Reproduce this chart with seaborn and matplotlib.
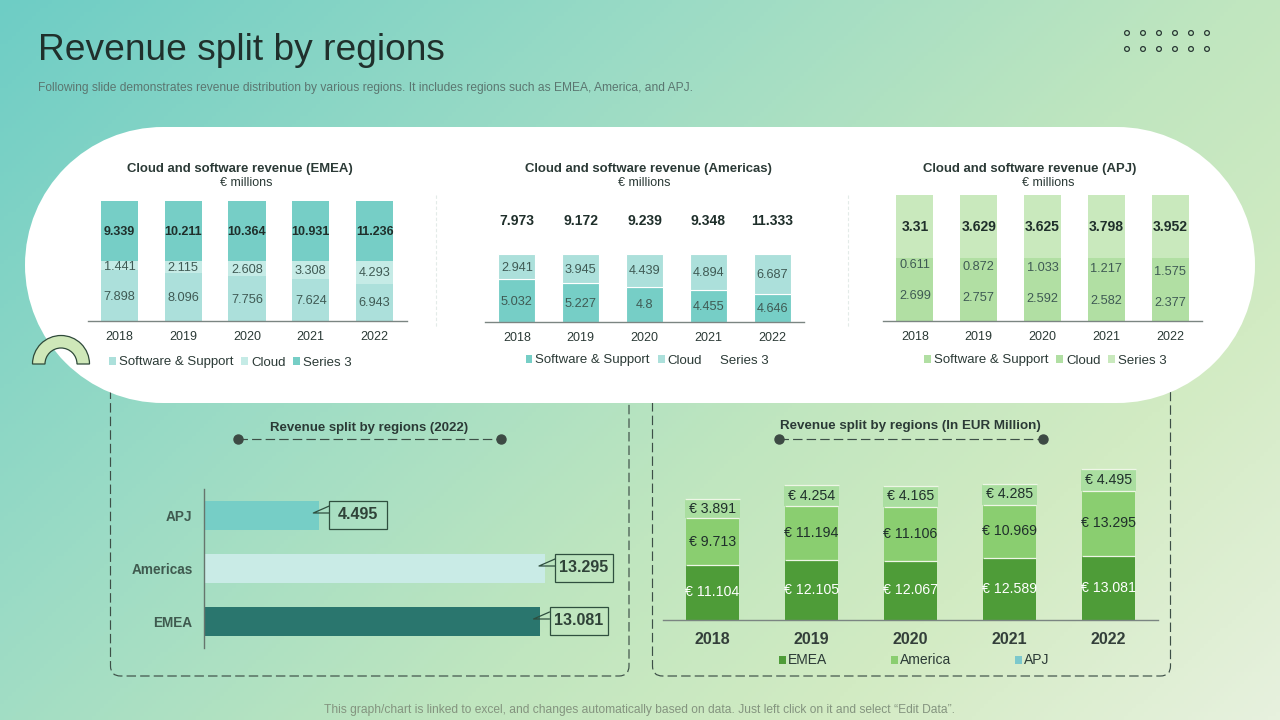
import numpy as np
import pandas as pd
import seaborn as sns
import matplotlib
matplotlib.use("Agg")
import matplotlib.pyplot as plt
from matplotlib.colors import LinearSegmentedColormap
from matplotlib.patches import FancyBboxPatch, Wedge, Circle, Patch, Rectangle

# ---------- data ----------
years = ["2018", "2019", "2020", "2021", "2022"]
emea_software = [7.898, 8.096, 7.756, 7.624, 6.943]
emea_cloud = [1.441, 2.115, 2.608, 3.308, 4.293]
emea_series3 = [9.339, 10.211, 10.364, 10.931, 11.236]
amer_software = [5.032, 5.227, 4.8, 4.455, 4.646]
amer_cloud = [2.941, 3.945, 4.439, 4.894, 6.687]
amer_series3 = [7.973, 9.172, 9.239, 9.348, 11.333]
apj_software = [2.699, 2.757, 2.592, 2.582, 2.377]
apj_cloud = [0.611, 0.872, 1.033, 1.217, 1.575]
apj_series3 = [3.31, 3.629, 3.625, 3.798, 3.952]
regions_2022 = ["APJ", "Americas", "EMEA"]
values_2022 = [4.495, 13.295, 13.081]
total_emea = [11.104, 12.105, 12.067, 12.589, 13.081]
total_america = [9.713, 11.194, 11.106, 10.969, 13.295]
total_apj = [3.891, 4.254, 4.165, 4.285, 4.495]
series_names = ["Software & Support", "Cloud", "Series 3"]
total_names = ["EMEA", "America", "APJ"]

W, H = 1280, 720
sns.set_theme(style="white")
plt.rcParams["font.family"] = ["Liberation Sans", "DejaVu Sans"]
fig = plt.figure(figsize=(12.8, 7.2), dpi=100)

DARK = "#2b3a36"
MID = "#3f5a54"


def ax_px(x0, y0, x1, y1, **kw):
    return fig.add_axes([x0 / W, 1 - y1 / H, (x1 - x0) / W, (y1 - y0) / H], **kw)


# ---------- background and decoration ----------
bg = ax_px(0, 0, W, H)
xx, yy = np.meshgrid(np.linspace(0, 1, 320), np.linspace(0, 1, 180))
t = (xx + 0.62 * yy) / 1.62
cmap = LinearSegmentedColormap.from_list(
    "bgfade",
    [(0, "#6ecdc5"), (0.3, "#97dac6"), (0.6, "#c0e6bf"), (0.78, "#d2ebc3"), (1, "#e7f1de")],
)
bg.imshow(t, cmap=cmap, extent=(0, W, H, 0), aspect="auto", zorder=0, vmin=0, vmax=1)
bg.set_xlim(0, W)
bg.set_ylim(H, 0)
bg.axis("off")

for bx0, bx1 in [(110.5, 629), (652.5, 1170.5)]:
    bg.add_patch(FancyBboxPatch((bx0, 380), bx1 - bx0, 296,
                                boxstyle="round,pad=0,rounding_size=10", fc="none",
                                ec="#3d4f47", lw=0.85, ls=(0, (8, 3.5)), zorder=1))
# white pill: a rectangle closed by two full half circles
bg.add_patch(Rectangle((163, 127), 954, 276, fc="white", ec="none", zorder=2))
bg.add_patch(Circle((163, 265), 138, fc="white", ec="none", zorder=2))
bg.add_patch(Circle((1117, 265), 138, fc="white", ec="none", zorder=2))
bg.add_patch(Wedge((61, 364), 28.5, 180, 360, width=12.5, fc="#cfe8b9", ec="#2f4a3a", lw=0.9, zorder=3))
for x in [1127, 1143, 1159, 1175, 1191, 1207]:
    for y in [33, 49]:
        bg.add_patch(Circle((x, y), 2.4, fc="none", ec="#2b3a36", lw=0.9, zorder=3))
for x in [435.5, 847.5]:
    bg.plot([x, x], [195, 327], color="#e3ebe8", lw=0.8, ls=(0, (3, 2)), zorder=3)
for x0, x1 in [(238, 501), (779, 1043)]:
    bg.plot([x0, x1], [439, 439], color="#3d4f47", lw=0.85, ls=(0, (8, 3.5)), zorder=3)
    bg.plot([x0, x1], [439, 439], ls="none", marker="o", ms=6.5, color="#3d4a44", zorder=3)

bg.text(38, 50, "Revenue split by regions", fontsize=26.7, color="#20302c", va="center", ha="left", zorder=4)
bg.text(38, 88, "Following slide demonstrates revenue distribution by various regions. It includes regions such as EMEA, America, and APJ.",
        fontsize=8.63, color="#5b7670", va="center", ha="left", zorder=4)
bg.text(639, 710, "This graph/chart is linked to excel, and changes automatically based on data. Just left click on it and select \u201cEdit Data\u201d.",
        fontsize=8.65, color="#84947f", va="center", ha="center", zorder=4)

for cx, txt, scx in [(240, "Cloud and software revenue (EMEA)", 246),
                     (648.5, "Cloud and software revenue (Americas)", 644),
                     (1029.5, "Cloud and software revenue (APJ)", 1048)]:
    bg.text(cx, 168.8, txt, fontsize=9.45, fontweight="bold", color=DARK, ha="center", va="center", zorder=4)
    bg.text(scx, 183.5, "\u20ac millions", fontsize=9, color=DARK, ha="center", va="center", zorder=4)
bg.text(369, 428.5, "Revenue split by regions (2022)", fontsize=9.5, fontweight="bold", color=DARK, ha="center", va="center", zorder=4)
bg.text(910, 426.5, "Revenue split by regions (In EUR Million)", fontsize=9.6, fontweight="bold", color=DARK, ha="center", va="center", zorder=4)


def style_cat(ax, size=9, weight="normal", pad=7):
    ax.patch.set_alpha(0)
    sns.despine(ax=ax, left=True)
    ax.spines["bottom"].set_color("#7b8582")
    ax.spines["bottom"].set_linewidth(1)
    ax.set_xlabel("")
    ax.set_ylabel("")
    ax.set_yticks([])
    ax.tick_params(axis="x", length=0, pad=pad, labelsize=size, labelcolor=DARK)
    for lab in ax.get_xticklabels():
        lab.set_fontweight(weight)


def share_chart(box, series, colors, top_size, legend_center, edge="none", hide_top=False):
    ax = ax_px(*box)
    totals = np.sum(series, axis=0)
    bottom = np.zeros(len(years))
    for i, (vals, col) in enumerate(zip(series, colors)):
        shares = np.array(vals) / totals
        df = pd.DataFrame({"year": years, "share": shares})
        sns.barplot(data=df, x="year", y="share", color=col, saturation=1, width=0.58,
                    bottom=bottom, ax=ax, edgecolor=edge, linewidth=0.8 if edge != "none" else 0)
        bold = i == 2
        if bold and hide_top:
            for bar in ax.containers[-1]:
                bar.set_alpha(0)
        labs = ax.bar_label(ax.containers[-1], labels=[f"{v:g}" for v in vals], label_type="center",
                            fontsize=top_size if bold else 9.2, fontweight="bold" if bold else "normal",
                            color="#1f2f2b" if bold else MID)
        for lab in labs:
            lab.xyann = (0, -0.7)
        bottom = bottom + shares
    ax.set_ylim(0, 1)
    ax.set_xlim(-0.5, 4.5)
    style_cat(ax)
    handles = [Patch(fc=c, ec="none", label=n) for c, n in zip(colors, series_names)]
    ax.legend(handles=handles, ncol=3, frameon=False, fontsize=9.5, labelcolor=DARK,
              loc="center", bbox_to_anchor=(legend_center[0] / W, 1 - legend_center[1] / H),
              bbox_transform=fig.transFigure, handlelength=0.52, handleheight=0.52,
              handletextpad=0.22, columnspacing=0.6, borderpad=0, borderaxespad=0)
    return ax


TEAL, TEAL2, TEAL3 = "#76cec6", "#ace0db", "#c5ebe6"
G1, G2 = "#b1dfa3", "#c9e9bd"
share_chart((87.5, 201, 406.5, 321), [emea_software, emea_cloud, emea_series3],
            [TEAL2, TEAL3, TEAL], 9, (230.5, 362.5))
share_chart((485, 186, 804, 322), [amer_software, amer_cloud, amer_series3],
            [TEAL, TEAL2, "#ffffff"], 10, (647, 360.5), edge="white", hide_top=True)
share_chart((883, 195, 1202, 321), [apj_software, apj_cloud, apj_series3],
            [G1, G1, G2], 10, (1045.5, 360.5))

# ---------- horizontal bars ----------
PX_PER_UNIT = 25.65
axh = ax_px(204, 489, 616, 648)
df_h = pd.DataFrame({"region": regions_2022, "value": values_2022})
sns.barplot(data=df_h, y="region", x="value", hue="region", orient="h", ax=axh, width=0.54,
            palette=["#76cec6", "#c9ebe6", "#2a766e"], saturation=1, legend=False, linewidth=0)
axh.set_xlim(0, 412 / PX_PER_UNIT)
axh.set_ylim(2.5, -0.5)
axh.patch.set_alpha(0)
sns.despine(ax=axh, bottom=True)
axh.spines["left"].set_color("#66756d")
axh.spines["left"].set_linewidth(1)
axh.set_xlabel("")
axh.set_ylabel("")
axh.set_xticks([])
axh.tick_params(axis="y", length=0, pad=8.3, labelsize=9.8, labelcolor="#3f5a4f")
for lab in axh.get_yticklabels():
    lab.set_fontweight("bold")
EDGE = "#2f4f3f"
ux, uy = 1 / PX_PER_UNIT, 1 / 53
for i, v in enumerate(values_2022):
    left = v + 10 * ux
    axh.add_patch(Rectangle((left, i - 15 * uy), 58 * ux, 28.5 * uy, fc="none", ec=EDGE, lw=0.9, zorder=5))
    axh.plot([left, v - 6 * ux, left], [i - 9.5 * uy, i - 2.5 * uy, i - 2.5 * uy], color=EDGE, lw=0.9, zorder=5)
    axh.text(left + 29 * ux, i - 1 * uy, f"{v:g}", fontsize=11.5, fontweight="bold", color="#2f4238",
             ha="center", va="center", zorder=6)

# ---------- stacked totals ----------
axs = ax_px(663, 463.5, 1158, 619.5)
bottom = np.zeros(len(years))
for vals, col, tc, wid in zip([total_emea, total_america, total_apj],
                              ["#4e9c38", "#8ace70", "#aadea0"],
                              ["white", "#1f2f2b", "#1f2f2b"], [0.545, 0.545, 0.565]):
    df = pd.DataFrame({"year": years, "value": vals})
    sns.barplot(data=df, x="year", y="value", color=col, saturation=1, width=wid,
                bottom=bottom, ax=axs, linewidth=0)
    axs.bar_label(axs.containers[-1], labels=[f"\u20ac {v:g}" for v in vals], label_type="center",
                  fontsize=10.2, color=tc)
    bottom = bottom + np.array(vals)
    axs.hlines(bottom, np.arange(len(years)) - wid / 2, np.arange(len(years)) + wid / 2,
               color="#eef6e6", lw=0.9, zorder=4)
axs.set_ylim(0, 32)
axs.set_xlim(-0.5, 4.5)
style_cat(axs, size=11.5, weight="bold", pad=9)
for lab in axs.get_xticklabels():
    lab.set_color("#333f3a")
handles = [Patch(fc=c, ec="none", label=n) for c, n in zip(["#4e9c38", "#8ace70", "#7cc8cc"], total_names)]
axs.legend(handles=handles, ncol=3, frameon=False, fontsize=10, labelcolor=DARK,
           loc="center", bbox_to_anchor=(914 / W, 1 - 660.5 / H), bbox_transform=fig.transFigure,
           handlelength=0.5, handleheight=0.5, handletextpad=0.15, columnspacing=4.6,
           borderpad=0, borderaxespad=0)

fig.savefig("out.png", dpi=100)
